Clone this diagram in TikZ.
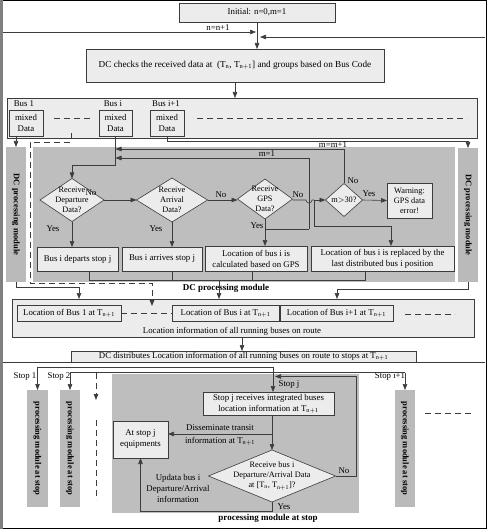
\documentclass[tikz,border=0pt]{standalone}
\usepackage{fontspec}
\setmainfont{Liberation Serif}
\usetikzlibrary{arrows.meta,shapes.geometric}
\definecolor{boxgray}{RGB}{236,236,236}
\definecolor{modgray}{RGB}{190,190,190}
\definecolor{bargray}{RGB}{186,186,186}
\definecolor{linegray}{RGB}{60,60,60}
\begin{document}
\begin{tikzpicture}[x=1pt,y=-1pt,
  font=\fontsize{8.8}{11}\selectfont,
  every node/.style={inner sep=0pt, outer sep=0pt},
  box/.style={draw=linegray, fill=boxgray, line width=0.6pt, align=center},
  bar/.style={fill=bargray, minimum width=20pt},
  dia/.style={diamond, draw=linegray, fill=boxgray, line width=0.6pt},
  txt/.style={align=center},
  dtxt/.style={align=center, font=\fontsize{8.3}{10}\selectfont},
  conn/.style={draw=linegray, line width=0.6pt},
  arr/.style={conn, -{Triangle[length=6pt,width=4.5pt]}},
  dsh/.style={conn, dash pattern=on 6pt off 4pt, line width=0.8pt},
  boldlbl/.style={font=\fontsize{9}{10}\selectfont\bfseries},
  barlbl/.style={font=\fontsize{8.5}{10}\selectfont\bfseries, rotate=-90},
]
\useasboundingbox (0,0) rectangle (487,529);
\fill[white] (0,0) rectangle (487,529);
% border
\draw[black, line width=1.5pt] (0,0.75) -- (486.25,0.75) -- (486.25,528.25) -- (0,528.25);
\draw[gray, line width=3pt] (1.5,0) -- (1.5,529);

% ---------- top ----------
\node[box, minimum width=156pt, minimum height=19pt] (init) at (257,12.5) {Initial: n=0,m=1};
\node[box, minimum width=298pt, minimum height=33pt, font=\fontsize{9.2}{11}\selectfont] (dcc) at (235,65.5)
  {DC checks the received data at \ (T$_{\mathrm{n}}$, T$_{\mathrm{n+1}}$] and groups based on Bus Code};
\draw[arr] (init.south) -- (init.south |- dcc.north);
% DC frame (loop) with arrows meeting at the junction
\coordinate (nl) at (3,32); \coordinate (nr) at (256,32);
\coordinate (ml) at (260,37); \coordinate (mr) at (485,37);
\coordinate (fbl) at (3,362); \coordinate (fbr) at (485,362);
\draw[conn] (fbl) -- (fbr);
\draw[arr] (nl) -- (nr);
\node (nlbl) at (218,28) {n=n+1};
\draw[arr] (mr) -- (ml);

% mixed data container
\node[box, minimum width=470pt, minimum height=40pt] (mixc) at (242,118) {};
\draw[arr] (dcc.south) -- (dcc.south |- mixc.north);
\node (b1) at (24,104) {Bus 1};
\node (bi) at (113,104) {Bus i};
\node (bi1) at (166,104) {Bus i+1};
\node[box, minimum width=34pt, minimum height=26pt] (mx1) at (26,123) {mixed\\Data};
\node[box, minimum width=33pt, minimum height=26pt] (mxi) at (115.5,123) {mixed\\Data};
\node[box, minimum width=34pt, minimum height=26pt] (mxi1) at (167,123) {mixed\\Data};
\draw[dsh] (54,118) -- (91,118);
\draw[dsh] (197,118) -- (467,118);

% ---------- DC processing module ----------
\node[fill=modgray, minimum width=422pt, minimum height=135pt] (mod) at (244,214.5) {};
\node[bar, minimum height=135pt] (lbar) at (16,214.5) {};
\node[barlbl] (lbarl) at (lbar) {DC processing module};
\node[bar, minimum height=134pt] (rbar) at (468,215) {};
\node[barlbl] (rbarl) at (rbar) {DC processing module};

\node[dia, minimum width=64pt, minimum height=43pt] (d1) at (72,200) {};
\node[dtxt] (d1t) at (d1) {Receive\\Departure\\Data?};
\node[dia, minimum width=71pt, minimum height=44pt] (d2) at (172,200) {};
\node[dtxt] (d2t) at (d2) {Receive\\Arrival\\Data?};
\node[dia, minimum width=55pt, minimum height=40pt] (d3) at (265,199) {};
\node[dtxt] (d3t) at (d3) {Receive\\GPS\\Data?};
\node[dia, minimum width=37pt, minimum height=33pt] (d4) at (344,200) {};
\node[dtxt] (d4t) at (d4) {m$>$30?};
\node[box, minimum width=45pt, minimum height=35pt, font=\fontsize{8.3}{10}\selectfont] (warn) at (409.5,200.5) {Warning:\\GPS data\\error!};

\node[box, minimum width=81pt, minimum height=24pt] (dep) at (77.5,259) {Bus i departs stop j};
\node[box, minimum width=80pt, minimum height=24pt] (arv) at (162,259) {Bus i arrives stop j};
\node[box, minimum width=102pt, minimum height=25pt] (gps) at (256,258.5) {Location of bus i is\\calculated based on GPS};
\node[box, minimum width=143pt, minimum height=25pt] (repl) at (382.5,258.5) {Location of bus i is replaced by the\\last distributed bus i position};
\node[boldlbl] (modl) at (226,288) {DC processing module};

% inputs
\draw[arr] (lbar.north |- mx1.south) -- (lbar.north);
\coordinate (ia) at (115.5,165);
\draw[arr] (mxi.south) -- (ia) -| (d1.north);
\coordinate (i1a) at (167,141);
\draw[arr] (mxi1.south) -- (i1a) -| (rbar.north);
% m loops
\coordinate (mm1) at (344,149);
\draw[arr] (d4.north) -- (mm1) -- (mm1 -| mxi.south);
\node (mml) at (333,145) {m=m+1};
\coordinate (m1a) at (265,229); \coordinate (m1b) at (309,229); \coordinate (m1c) at (309,158);
\draw[conn] (m1a) -- (m1b);
\draw[arr] (m1b) -- (m1c) -- (m1c -| mxi.south);
\node (m1l) at (267,154) {m=1};
% diamonds flow
\draw[arr] (d1.east) -- (d2.west);
\node (no1) at (91,193) {No};
\draw[arr] (d2.east) -- (d3.west |- d2.east);
\node (no2) at (221,195) {No};
\coordinate (hopa) at (306,200); \coordinate (jg) at (314,200);
\draw[conn] (d3.east |- hopa) -- (hopa) arc[start angle=180, end angle=360, radius=3pt] -- (jg);
\draw[arr] (jg) -- (d4.west);
\node (no3) at (298,195) {No};
\coordinate (jg2) at (314,226); \coordinate (rin) at (391,246);
\draw[arr] (jg) -- (jg2) -| (rin);
\draw[arr] (d4.east) -- (warn.west);
\node (yes4) at (369,194) {Yes};
\node (no4) at (353,181) {No};
\draw[arr] (d1.south) -- (d1.south |- dep.north);
\node (yes1) at (53,229) {Yes};
\draw[arr] (d2.south) -- (d2.south |- arv.north);
\node (yes2) at (156,229) {Yes};
\draw[arr] (d3.south) -- (d3.south |- gps.north);
\node (yes3) at (257,226) {Yes};
% collect line
\coordinate (bt1) at (89,280); \coordinate (bt4) at (365,280);
\draw[conn] (bt1 |- dep.south) -- (bt1) -- (bt4) -- (bt4 |- repl.south);
\draw[conn] (arv.south -| 172,0) -- (172,280);
\draw[conn] (252,271) -- (252,280);

% ---------- location container ----------
\node[box, minimum width=462pt, minimum height=38pt] (locc) at (243,318) {};
\node[box, minimum width=104pt, minimum height=16pt] (loc1) at (69,313) {Location of Bus 1 at T$_{\mathrm{n+1}}$};
\node[box, minimum width=107pt, minimum height=16pt] (loci) at (225.5,313) {Location of Bus i at T$_{\mathrm{n+1}}$};
\node[box, minimum width=113pt, minimum height=16pt] (loci1) at (336.5,313) {Location of Bus i+1 at T$_{\mathrm{n+1}}$};
\draw[dsh] (loc1.east) -- (loci.west);
\draw[dsh] (405,314) -- (455,314);
\node (locl) at (232,331) {Location information of all running buses on route};

\coordinate (bout) at (219,280);
\draw[arr] (bout) -- (bout |- locc.north);
\coordinate (lb1) at (79,287); \coordinate (l1in) at (79,299);
\draw[arr] (lbar.south) |- (lb1) -- (l1in);
\coordinate (rb1) at (337,289); \coordinate (r1in) at (337,299);
\draw[arr] (rbar.south) |- (rb1) -- (r1in);
\draw[dsh, -{Triangle[length=6pt,width=4.5pt]}] (71,133) -- (71,142) -- (30,142) -- (30,283) -- (152,283) -- (152,306);

% distribution
\node[box, minimum width=345pt, minimum height=11pt] (dist) at (243.5,356.5)
  {DC distributes Location information of all running buses on route to stops at T$_{\mathrm{n+1}}$};
\draw[arr] (locc.south -| 242,0) -- (dist.north -| 242,0);

% ---------- stops ----------
\node[fill=modgray, minimum width=247pt, minimum height=139pt] (stopm) at (235.5,443.5) {};
\node[bar, minimum width=21pt, minimum height=117pt] (bar1) at (37.5,448.5) {};
\node[barlbl] (bar1l) at (bar1) {processing module at stop};
\node[bar, minimum height=117pt] (bar2) at (70,448.5) {};
\node[barlbl] (bar2l) at (bar2) {processing module at stop};
\node[bar, minimum height=117pt] (bar3) at (405,448.5) {};
\node[barlbl] (bar3l) at (bar3) {processing module at stop};
\node (s1) at (25,377) {Stop 1};
\node (s2) at (59,377) {Stop 2};
\node (s3) at (390,377) {Stop i+1};

\coordinate (fla) at (37.5,367); \coordinate (fra) at (273,367);
\coordinate (flb) at (70,372.5); \coordinate (frb) at (405,372.5);
\draw[conn] (fla) -- (fra);
\draw[conn] (flb) -- (frb);
\draw[arr] (fla) -- (bar1.north);
\draw[arr] (flb) -- (bar2.north);
\draw[arr] (frb) -- (bar3.north);
\draw[dsh, -{Triangle[length=6pt,width=4.5pt]}] (96,372.5) -- (96,400);
\draw[dsh] (96,420) -- (96,500);
\draw[dsh] (425,413) -- (472,413);

\node[box, minimum width=131pt, minimum height=23pt] (sj) at (268.5,403.5) {Stop j receives integrated buses\\location information at T$_{\mathrm{n+1}}$};
\node[dia, minimum width=127pt, minimum height=52pt] (d5) at (272,476) {};
\node[dtxt] (d5t) at (d5) {Receive bus i\\Departure/Arrival Data\\at [T$_{\mathrm{n}}$, T$_{\mathrm{n+1}}$]?};
\node[box, minimum width=55pt, minimum height=37pt] (eq) at (140.5,439.5) {At stop j\\equipments};

\draw[arr] (fra) -- (fra |- sj.north);
\node (sjl) at (289,385) {Stop j};
\draw[arr] (d5.north |- sj.south) -- (d5.north);
\coordinate (dis) at (272,434);
\draw[arr] (dis) -- (dis -| eq.east);
\node[txt] (disl) at (220,434.5) {Disseminate transit\\[2pt]information at T$_{\mathrm{n+1}}$};
\coordinate (nol1) at (356,476); \coordinate (nol2) at (356,376.5);
\draw[arr] (d5.east) -- (nol1) -- (nol2) -- (nol2 -| 275,0);
\node (no5) at (344,471) {No};
\coordinate (ys1) at (272,511);
\draw[arr] (d5.south) -- (ys1) -| (eq.south);
\node (yes5) at (284,507) {Yes};
\node[txt] (updl) at (178,488) {Updata bus i\\Departure/Arrival\\information};
\node[boldlbl] (stopl) at (268,518) {processing module at stop};
\end{tikzpicture}
\end{document}
